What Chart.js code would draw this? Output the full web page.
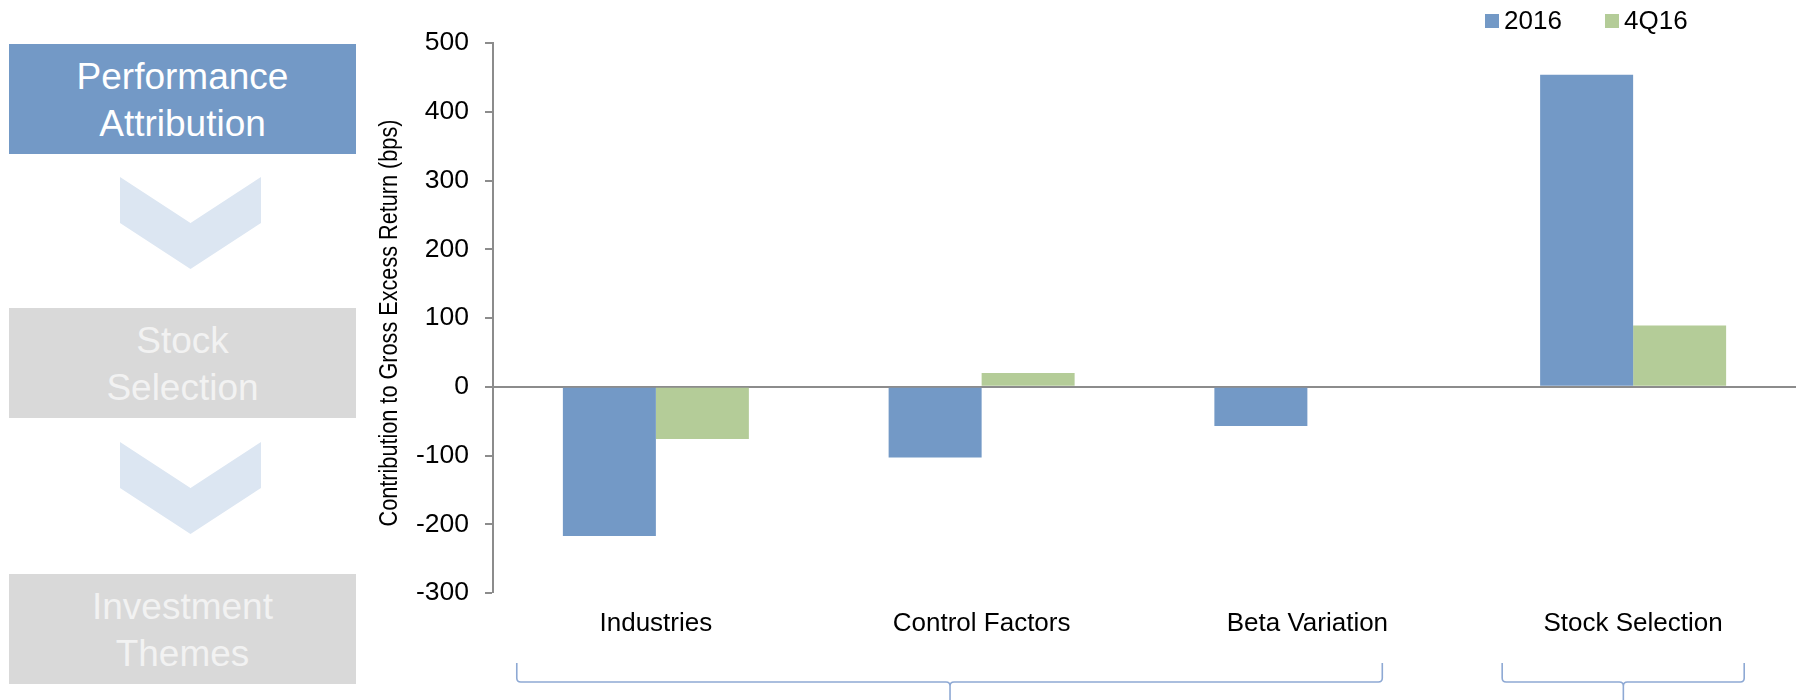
<!DOCTYPE html>
<html>
<head>
<meta charset="utf-8">
<script src="https://cdn.jsdelivr.net/npm/chart.js@4/dist/chart.umd.min.js"></script>
<style>
  html, body { margin: 0; padding: 0; background: #fff; }
  #wrap { position: relative; width: 1796px; height: 700px; overflow: hidden; }
  #chart { position: absolute; left: 0; top: 0; }
  .step {
    position: absolute; left: 9px; width: 347px; height: 110px; box-sizing: border-box; padding-top: 4px;
    display: flex; align-items: center; justify-content: center; text-align: center;
    font-family: "Liberation Sans", Arial, sans-serif; font-size: 37px; line-height: 46.7px;
  }
  .step.active { background: #7399C6; color: #ffffff; }
  .step.idle { background: #D9D9D9; color: #F2F2F2; }
  svg.flow { position: absolute; left: 0; top: 0; }
</style>
</head>
<body>
<div id="wrap">
  <canvas id="chart" width="1796" height="700"></canvas>
  <svg class="flow" width="370" height="700">
    <polygon points="120,177 190.5,223 261,177 261,223 190.5,269 120,223" fill="#DCE6F2"/>
    <polygon points="120,442 190.5,488 261,442 261,488 190.5,534 120,488" fill="#DCE6F2"/>
  </svg>
  <div class="step active" style="top:44px">Performance<br>Attribution</div>
  <div class="step idle" style="top:308px">Stock<br>Selection</div>
  <div class="step idle" style="top:574px">Investment<br>Themes</div>
</div>
<script>
// Attribution categories and contributions (bps)
const categories = ['Industries', 'Control Factors', 'Beta Variation', 'Stock Selection'];
const seriesNames = ['2016', '4Q16'];
const values2016 = [-217, -103, -57, 454];
const values4Q16 = [-76, 20, 0, 89];
const yTicks = { min: -300, max: 500, step: 100 };
const yTitle = 'Contribution to Gross Excess Return (bps)';

// Brace groupings under the category axis, in category-index units
const braceStarts = [-0.427, 2.598];
const braceEnds = [2.23, 3.341];
const braceTips = [0.903, 2.97];

const colors = ['#7399C6', '#B4CC98'];
const AXIS_GREY = '#8C8C8C';
const FONT = '"Liberation Sans", Arial, sans-serif';

// Legend drawn in the top-right corner from the dataset labels/colours
const cornerLegend = {
  id: 'cornerLegend',
  afterDraw(chart) {
    const ctx = chart.ctx;
    ctx.save();
    ctx.font = '26px ' + FONT;
    ctx.textBaseline = 'middle';
    ctx.textAlign = 'left';
    let x = 1485;
    const y = 14;
    chart.data.datasets.forEach(ds => {
      ctx.fillStyle = ds.backgroundColor;
      ctx.fillRect(x, y, 14, 14);
      ctx.fillStyle = '#000';
      ctx.fillText(ds.label, x + 19, y + 8);
      x += 120;
    });
    ctx.restore();
  }
};

// Condensed, rotated value-axis title
const narrowAxisTitle = {
  id: 'narrowAxisTitle',
  afterDraw(chart) {
    const ctx = chart.ctx;
    const area = chart.chartArea;
    ctx.save();
    ctx.translate(390, (area.top + area.bottom) / 2 + 5);
    ctx.rotate(-Math.PI / 2);
    ctx.scale(0.833, 1);
    ctx.font = '26px ' + FONT;
    ctx.fillStyle = '#000';
    ctx.textAlign = 'center';
    ctx.textBaseline = 'middle';
    ctx.fillText(yTitle, 0, 0);
    ctx.restore();
  }
};

// Curly braces grouping the categories below the axis labels
const groupBraces = {
  id: 'groupBraces',
  afterDraw(chart) {
    const ctx = chart.ctx;
    const xs = chart.scales.x;
    const base = chart.chartArea.bottom;
    const yTop = base + 70, yBar = base + 89, yEnd = 700;
    ctx.save();
    ctx.strokeStyle = '#8EA9D4';
    ctx.lineWidth = 1.6;
    braceStarts.forEach((s, i) => {
      const xl = xs.getPixelForValue(braceStarts[i]);
      const xr = xs.getPixelForValue(braceEnds[i]);
      const xt = xs.getPixelForValue(braceTips[i]);
      const r = 4;
      ctx.beginPath();
      ctx.moveTo(xl, yTop);
      ctx.lineTo(xl, yBar - r);
      ctx.quadraticCurveTo(xl, yBar, xl + r, yBar);
      ctx.lineTo(xt - r, yBar);
      ctx.quadraticCurveTo(xt, yBar, xt, yBar + r);
      ctx.lineTo(xt, yEnd + 2);
      ctx.moveTo(xt, yBar + r);
      ctx.quadraticCurveTo(xt, yBar, xt + r, yBar);
      ctx.lineTo(xr - r, yBar);
      ctx.quadraticCurveTo(xr, yBar, xr, yBar - r);
      ctx.lineTo(xr, yTop);
      ctx.stroke();
    });
    ctx.restore();
  }
};

new Chart(document.getElementById('chart'), {
  type: 'bar',
  data: {
    labels: categories,
    datasets: [
      { label: seriesNames[0], data: values2016, backgroundColor: colors[0] },
      { label: seriesNames[1], data: values4Q16, backgroundColor: colors[1] }
    ]
  },
  options: {
    responsive: false,
    devicePixelRatio: 1,
    animation: false,
    layout: { padding: { left: 0, right: 0, top: 43, bottom: 0 } },
    datasets: { bar: { categoryPercentage: 0.571, barPercentage: 1.0, borderWidth: 0 } },
    plugins: { legend: { display: false }, tooltip: { enabled: false } },
    scales: {
      x: {
        grid: { display: false, drawTicks: false },
        border: { display: false },
        ticks: { font: { family: FONT, size: 26 }, color: '#000', padding: 15 },
        afterFit(scale) { scale.height = 107; }
      },
      y: {
        min: yTicks.min,
        max: yTicks.max,
        ticks: {
          stepSize: yTicks.step,
          font: { family: FONT, size: 26.5 },
          color: '#000',
          padding: 16
        },
        grid: {
          color: c => (c.tick && c.tick.value === 0 ? AXIS_GREY : 'rgba(0,0,0,0)'),
          lineWidth: c => (c.tick && c.tick.value === 0 ? 2 : 0),
          drawTicks: true,
          tickLength: 8,
          tickColor: AXIS_GREY,
          tickWidth: 2
        },
        border: { display: true, color: AXIS_GREY, width: 2 },
        title: { display: false, text: yTitle },
        afterFit(scale) { scale.width = 493; }
      }
    }
  },
  plugins: [cornerLegend, narrowAxisTitle, groupBraces]
});
</script>
</body>
</html>
